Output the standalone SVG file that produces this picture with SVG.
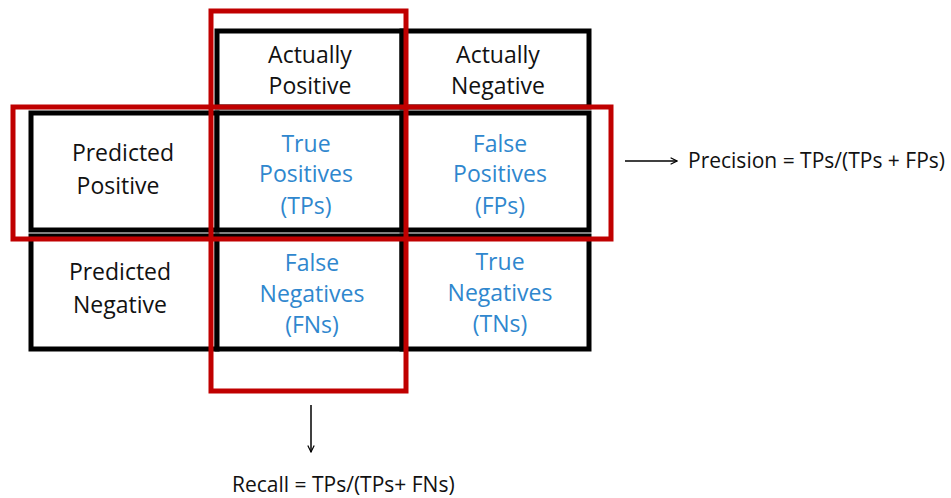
<svg xmlns="http://www.w3.org/2000/svg" width="951" height="498" viewBox="0 0 951 498">
<style>
.cell{fill:#fff;stroke:#000;stroke-width:5}
.hl{fill:none;stroke:#C00000;stroke-width:5}
text{font-family:"Open Sans","Noto Sans",sans-serif;font-size:23px;text-anchor:middle}
.k{fill:#111}
.b{fill:#2F87CE}
.f{font-size:21px;text-anchor:start;fill:#111}
.c{stroke:#000;stroke-width:1.5;fill:none}
</style>
<defs>
<marker id="ah" viewBox="0 0 10 10" refX="9" refY="5" markerWidth="8" markerHeight="8" orient="auto" markerUnits="userSpaceOnUse">
<path d="M1,1 L9,5 L1,9" fill="none" stroke="#000" stroke-width="1.5"/>
</marker>
</defs>
<g id="hdr-pos"><rect class="cell" x="217" y="31" width="185" height="76"/><text class="k" x="310" y="63">Actually</text><text class="k" x="310" y="94">Positive</text></g>
<g id="hdr-neg"><rect class="cell" x="402" y="31" width="187" height="76"/><text class="k" x="498" y="63">Actually</text><text class="k" x="498" y="94">Negative</text></g>
<g id="pred-pos"><rect class="cell" x="31" y="113" width="186" height="117"/><text class="k" x="123" y="161">Predicted</text><text class="k" x="118" y="194">Positive</text></g>
<g id="tp"><rect class="cell" x="217" y="113" width="185" height="117"/><text class="b" x="306" y="152">True</text><text class="b" x="306" y="182">Positives</text><text class="b" x="306" y="214">(TPs)</text></g>
<g id="fp"><rect class="cell" x="402" y="113" width="187" height="117"/><text class="b" x="500" y="152">False</text><text class="b" x="500" y="182">Positives</text><text class="b" x="500" y="214">(FPs)</text></g>
<g id="pred-neg"><rect class="cell" x="31" y="236" width="186" height="113"/><text class="k" x="120" y="280">Predicted</text><text class="k" x="120" y="313">Negative</text></g>
<g id="fn"><rect class="cell" x="217" y="236" width="185" height="113"/><text class="b" x="312" y="271">False</text><text class="b" x="312" y="302">Negatives</text><text class="b" x="312" y="333">(FNs)</text></g>
<g id="tn"><rect class="cell" x="402" y="236" width="187" height="113"/><text class="b" x="500" y="270">True</text><text class="b" x="500" y="301">Negatives</text><text class="b" x="500" y="332">(TNs)</text></g>
<g id="recall-box"><rect class="hl" x="211" y="11" width="195" height="380"/></g>
<g id="precision-box"><rect class="hl" x="13" y="107" width="598" height="132"/></g>
<g id="connectors">
<line class="c" x1="625" y1="161" x2="677" y2="161" marker-end="url(#ah)"/>
<line class="c" x1="311" y1="405" x2="311" y2="452" marker-end="url(#ah)"/>
</g>
<g id="precision-label"><text class="f" x="688" y="168">Precision = TPs/(TPs + FPs)</text></g>
<g id="recall-label"><text class="f" x="232" y="492">Recall = TPs/(TPs+ FNs)</text></g>
</svg>
